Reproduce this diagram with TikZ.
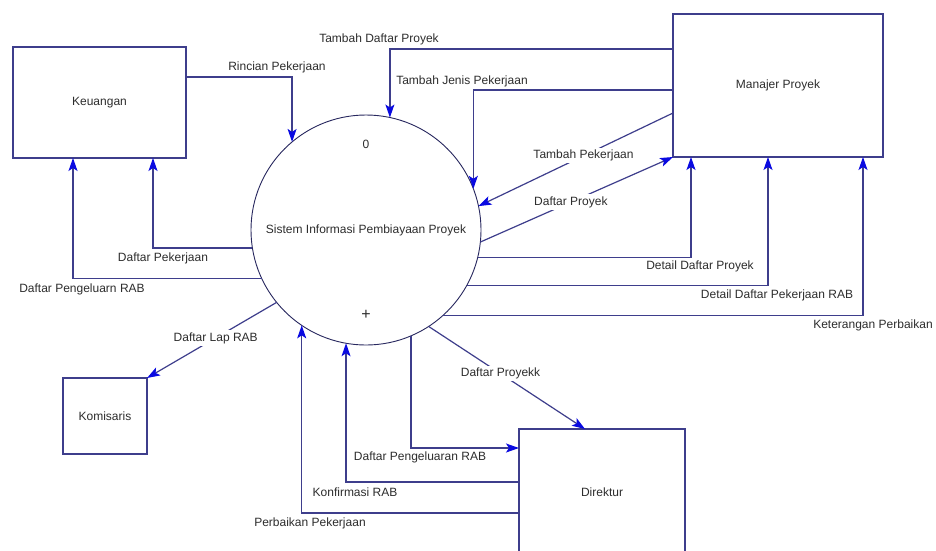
\documentclass[tikz,border=0pt]{standalone}
\usepackage{fontspec}
\setmainfont{Liberation Sans}
\usetikzlibrary{arrows.meta}
\definecolor{linec}{RGB}{62,62,140}
\definecolor{circc}{RGB}{40,40,95}
\definecolor{tipc}{RGB}{10,10,225}
\definecolor{txtc}{RGB}{45,45,45}
\tikzset{
  ent/.style={draw=linec, line width=1.2pt, inner sep=0pt, outer sep=0pt, text=txtc, font=\fontsize{12}{14}\selectfont},
  proc/.style={circle, draw=circc, line width=0.9pt, inner sep=0pt, outer sep=0pt, minimum size=230pt},
  flow/.style={draw=linec, line width=1.2pt, -{Stealth[length=13pt,width=9pt,inset=3pt,color=tipc]}},
  lab/.style={text=txtc, font=\fontsize{12}{14}\selectfont, inner sep=1pt},
  labw/.style={lab, fill=white, inner sep=2pt}
}
\begin{document}
\begin{tikzpicture}[x=1pt,y=-1pt]
\useasboundingbox (0,0) rectangle (936,550);
\clip (0,0) rectangle (936,550);
\fill[white] (0,0) rectangle (936,550);
% entities
\node[ent, minimum width=173pt, minimum height=111pt] (keu) at (99.5,102.5) {Keuangan};
\node[ent, minimum width=210pt, minimum height=143pt] (mp) at (778,85.5) {Manajer Proyek};
\node[ent, minimum width=84pt, minimum height=76pt] (kom) at (105,416) {Komisaris};
\node[ent, minimum width=166pt, minimum height=127pt] (dir) at (602,492.5) {Direktur};
% process
\node[proc] (sys) at (366,230) {};
\node[lab] (sysname) at (366,230) {Sistem Informasi Pembiayaan Proyek};
\node[lab] (sysnum) at (366,144) {0};
\node[lab, font=\fontsize{16}{18}\selectfont] (sysplus) at (366,315) {+};
% flows Keuangan
\draw[flow] (keu.east |- 0,77) -| (sys.130.1);
\node[lab] (l1) at (277,67) {Rincian Pekerjaan};
\draw[flow] (sys.189) -| (153,0 |- keu.south);
\node[lab] (l2) at (163,258) {Daftar Pekerjaan};
\draw[flow] (sys.205.2) -| (73,0 |- keu.south);
\node[lab] (l3) at (82,289) {Daftar Pengeluarn RAB};
% flows Manajer Proyek
\draw[flow] (mp.west |- 0,49) -| (sys.78);
\node[lab] (l4) at (379,39) {Tambah Daftar Proyek};
\draw[flow] (mp.west |- 0,90) -| (sys.21.5);
\node[lab] (l5) at (462,81) {Tambah Jenis Pekerjaan};
\draw[flow] (mp.west |- 0,113) -- node[labw, pos=0.46] (l6) {Tambah Pekerjaan} (sys.12.6);
\draw[flow] (sys.354) -- node[labw, pos=0.47] (l7) {Daftar Proyek} (mp.south west);
\draw[flow] (sys.346.4) -| (691,0 |- mp.south);
\node[lab] (l8) at (700,266) {Detail Daftar Proyek};
\draw[flow] (sys.331.4) -| (768,0 |- mp.south);
\node[lab] (l9) at (777,295) {Detail Daftar Pekerjaan RAB};
\draw[flow] (sys.312.4) -| (863,0 |- mp.south);
\node[lab] (l10) at (873,325) {Keterangan Perbaikan};
% Komisaris
\draw[flow] (sys.219.4) -- node[labw, pos=0.47] (l11) {Daftar Lap RAB} (kom.north east);
% Direktur
\draw[flow] (sys.303.7) -- node[labw, pos=0.46] (l12) {Daftar Proyekk} (585,0 |- dir.north);
\draw[flow] (sys.293.6) |- (dir.west |- 0,448);
\node[lab] (l13) at (420,457) {Daftar Pengeluaran RAB};
\draw[flow] (dir.west |- 0,482) -| (sys.260);
\node[lab] (l14) at (355,492) {Konfirmasi RAB};
\draw[flow] (dir.west |- 0,513) -| (sys.236.2);
\node[lab] (l15) at (310,523) {Perbaikan Pekerjaan};
\end{tikzpicture}
\end{document}
